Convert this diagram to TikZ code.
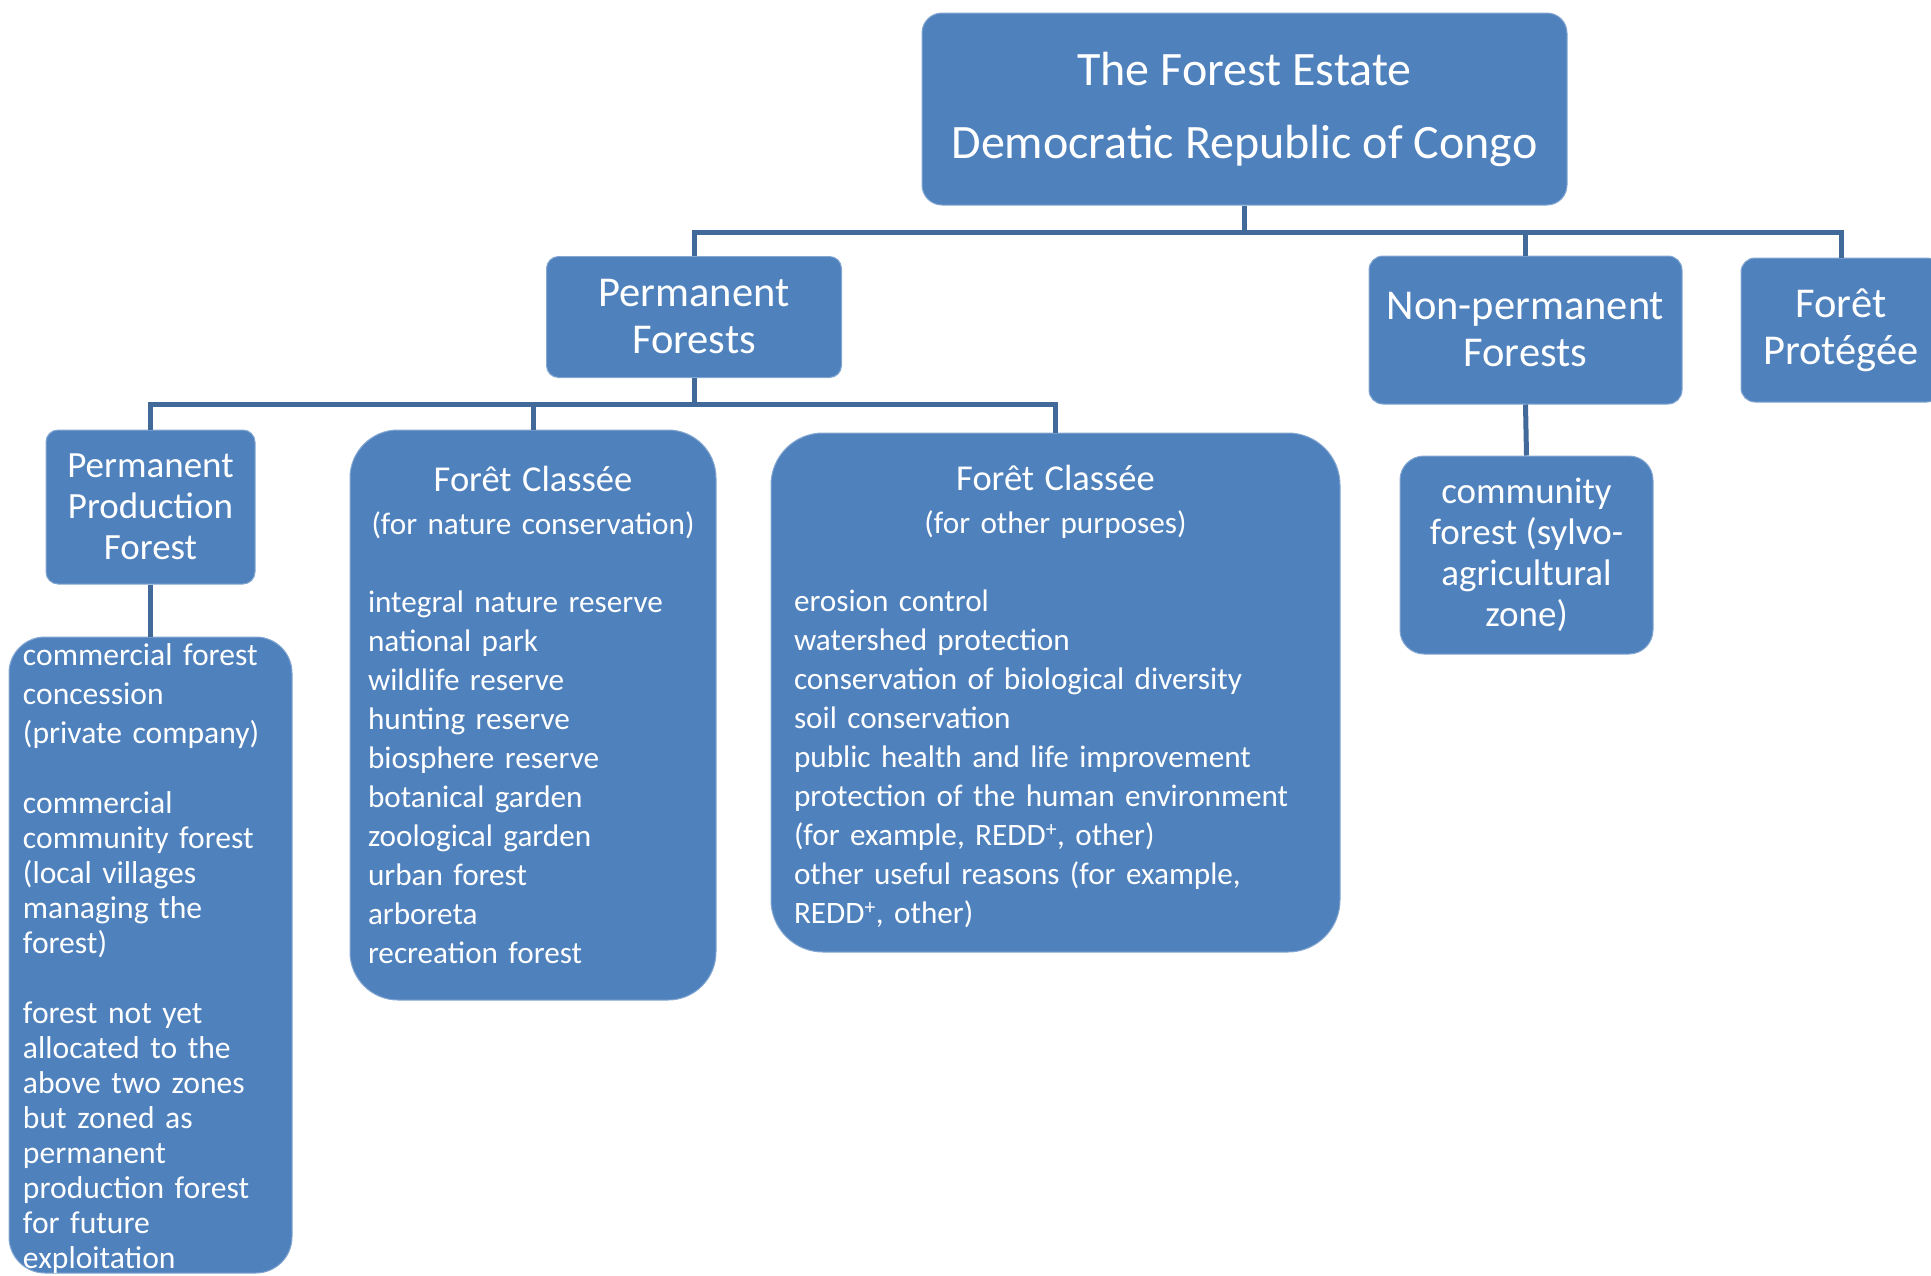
\documentclass[tikz,border=0pt]{standalone}
\usepackage{fontspec}
\setmainfont{Carlito}
\definecolor{boxblue}{HTML}{4F81BD}
\definecolor{lineblue}{HTML}{41699A}
\begin{document}
\begin{tikzpicture}[x=1pt,y=-1pt,
	box/.style={fill=boxblue, draw=boxblue!70!white, line width=1pt, text=white, inner sep=0pt},
	link/.style={draw=lineblue, line width=5pt}]
	\useasboundingbox (0,0) rectangle (1931,1275);

	% top level
	\node[box, align=center, rounded corners=20pt, minimum width=645pt, minimum height=192pt,
		font=\fontsize{48}{73}\selectfont] (estate) at (1244.5,109)
		{The Forest Estate\\Democratic Republic of Congo};

	% second level
	\node[box, align=center, rounded corners=12pt, minimum width=295pt, minimum height=121pt,
		font=\fontsize{42.5}{47}\selectfont] (perm) at (694,317) {Permanent\\Forests};
	\node[box, align=center, rounded corners=14pt, minimum width=313pt, minimum height=148pt,
		font=\fontsize{42.5}{47}\selectfont] (nonperm) at (1525.5,330) {Non-permanent\\Forests};
	\node[box, align=center, rounded corners=14pt, minimum width=200pt, minimum height=144pt,
		font=\fontsize{42.5}{47}\selectfont] (protegee) at (1841,330) {Forêt\\Protégée};

	% third level
	\node[box, align=center, rounded corners=12pt, minimum width=209pt, minimum height=154pt,
		font=\fontsize{37}{41}\selectfont] (ppf) at (150.5,507) {Permanent\\Production\\Forest};
	\node[box, rounded corners=48pt, minimum width=366pt, minimum height=570pt, text width=330pt,
		font=\fontsize{31.2}{39}\selectfont] (fcn) at (533,715)
		{\makebox[\linewidth]{\fontsize{36.5}{39}\selectfont Forêt Classée}\\[4pt]
		\makebox[\linewidth]{(for nature conservation)}\\[39pt]
		integral nature reserve\\ national park\\ wildlife reserve\\ hunting reserve\\
		biosphere reserve\\ botanical garden\\ zoological garden\\ urban forest\\
		arboreta\\ recreation forest};
	\node[box, rounded corners=52pt, minimum width=569pt, minimum height=519pt, text width=523pt,
		font=\fontsize{31.2}{39}\selectfont] (fco) at (1055.5,692.5)
		{\makebox[\linewidth]{\fontsize{36.5}{39}\selectfont Forêt Classée}\\[4pt]
		\makebox[\linewidth]{(for other purposes)}\\[39pt]
		erosion control\\ watershed protection\\ conservation of biological diversity\\
		soil conservation\\ public health and life improvement\\
		protection of the human environment\\ (for example, REDD\textsuperscript{+}, other)\\
		other useful reasons (for example,\\ REDD\textsuperscript{+}, other)\par\vspace{-8pt}};
	\node[box, align=center, rounded corners=24pt, minimum width=253pt, minimum height=198pt,
		font=\fontsize{37}{41}\selectfont] (cf) at (1526.5,555)
		{community\\forest (sylvo-\\agricultural\\zone)};

	% fourth level
	\node[box, rounded corners=36pt, minimum width=283pt, minimum height=636pt, text width=255pt,
		font=\fontsize{31.6}{35}\selectfont] (comm) at (150.5,955)
		{\raggedright commercial forest\\[4pt] concession\\[4pt] (private company)\\[35pt]
		commercial\\ community forest\\ (local villages\\ managing the\\ forest)\\[35pt]
		forest not yet\\ allocated to the\\ above two zones\\ but zoned as\\ permanent\\
		production forest\\ for future\\ \raisebox{0pt}[0pt][0pt]{exploitation}\par\vspace{-3pt}};

	% connectors
	\draw[link] (estate.south) -- ++(0,27) -| (perm.north);
	\draw[link] (estate.south) -- ++(0,27) -| (nonperm.north);
	\draw[link] (estate.south) -- ++(0,27) -| (protegee.north);
	\draw[link] (perm.south) -- ++(0,26) -| (ppf.north);
	\draw[link] (perm.south) -- ++(0,26) -| (fcn.north);
	\draw[link] (perm.south) -- ++(0,26) -| (fco.north);
	\draw[link] (nonperm.south) -- (cf.north);
	\draw[link] (ppf.south) -- (comm.north);
\end{tikzpicture}
\end{document}
